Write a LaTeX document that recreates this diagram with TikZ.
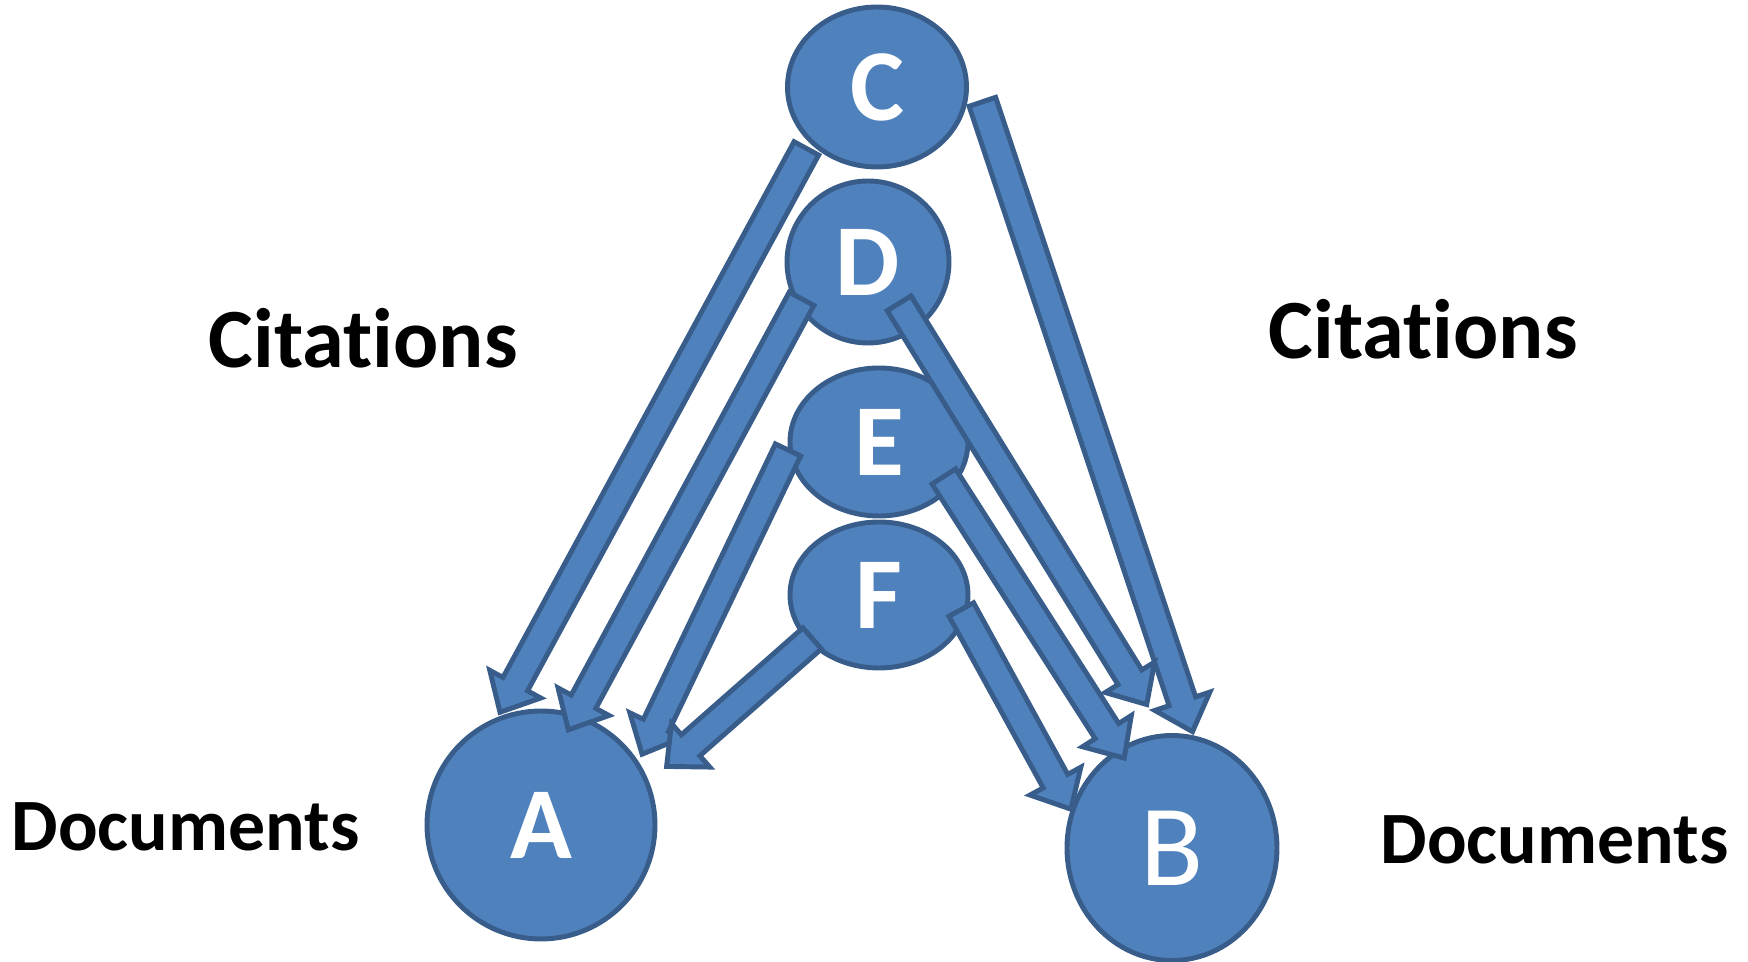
\documentclass[tikz,border=0pt]{standalone}
\usepackage{fontspec}
\setmainfont{Carlito}[Ligatures=NoCommon]
\usetikzlibrary{shapes.geometric,calc}

\definecolor{docfill}{HTML}{4F81BD}
\definecolor{docline}{HTML}{385D8A}

\tikzset{
  doc/.style={ellipse, fill=docfill, draw=docline, line width=1.4pt, inner sep=0pt, text=white, font=\bfseries\fontsize{29}{29}\selectfont},
  citearrow/.style={fill=docfill, draw=docline, line width=1.4pt, line join=miter},
  caption/.style={anchor=base west, inner sep=0pt, font=\bfseries}
}

% block arrow: node, angle, ratio (tail) -> node, angle, ratio (tip)
\newcommand{\blockarrow}[6]{%
  \coordinate (tl) at ($(#1.center)!#3!(#1.#2)$);
  \coordinate (tp) at ($(#4.center)!#6!(#4.#5)$);
  \coordinate (hb) at ($(tp)!0.32cm!(tl)$);
  \filldraw[citearrow] ($(tl)!0.14cm!90:(tp)$) -- ($(hb)!0.14cm!90:(tp)$) -- ($(hb)!0.29cm!90:(tp)$)
    -- (tp) -- ($(hb)!0.29cm!-90:(tp)$) -- ($(hb)!0.14cm!-90:(tp)$) -- ($(tl)!0.14cm!-90:(tp)$) -- cycle;
}

\begin{document}
\begin{tikzpicture}
    \useasboundingbox (0,0) rectangle (17.48,-9.62);

    % documents and citing papers
    \node[doc, minimum width=1.79cm, minimum height=1.60cm] (C) at (8.77,-0.87) {C};
    \node[doc, minimum width=1.62cm, minimum height=1.62cm] (D) at (8.68,-2.62) {D};
    \node[doc, minimum width=1.78cm, minimum height=1.48cm] (E) at (8.79,-4.42) {E};
    \node[doc, minimum width=1.78cm, minimum height=1.46cm] (F) at (8.79,-5.95) {F};
    \node[doc, minimum width=2.28cm, minimum height=2.28cm] (A) at (5.41,-8.25) {A};
    \node[doc, minimum width=2.10cm, minimum height=2.25cm, font=\fontsize{33}{33}\selectfont] (B) at (11.72,-8.48) {B};

    % citations into A
    \blockarrow{C}{221}{1.07}{A}{110}{1.03}
    \blockarrow{D}{209}{0.91}{A}{74}{0.85}
    \blockarrow{E}{185}{1.00}{A}{35}{1.06}
    \blockarrow{F}{213}{0.93}{A}{25}{1.19}

    % citations into B
    \blockarrow{C}{352}{1.16}{B}{80}{1.03}
    \blockarrow{D}{307}{0.62}{B}{100}{1.27}
    \blockarrow{E}{332}{0.84}{B}{118}{0.90}
    \blockarrow{F}{350}{0.92}{B}{159}{1.00}

    \node[caption, font=\bfseries\fontsize{24}{24}\selectfont] (citeL) at (2.08,-3.68) {Citations};
    \node[caption, font=\bfseries\fontsize{24}{24}\selectfont] (citeR) at (12.68,-3.59) {Citations};
    \node[caption, font=\bfseries\fontsize{21}{21}\selectfont] (docL) at (0.11,-8.51) {Documents};
    \node[caption, font=\bfseries\fontsize{21}{21}\selectfont] (docR) at (13.80,-8.64) {Documents};
\end{tikzpicture}
\end{document}
